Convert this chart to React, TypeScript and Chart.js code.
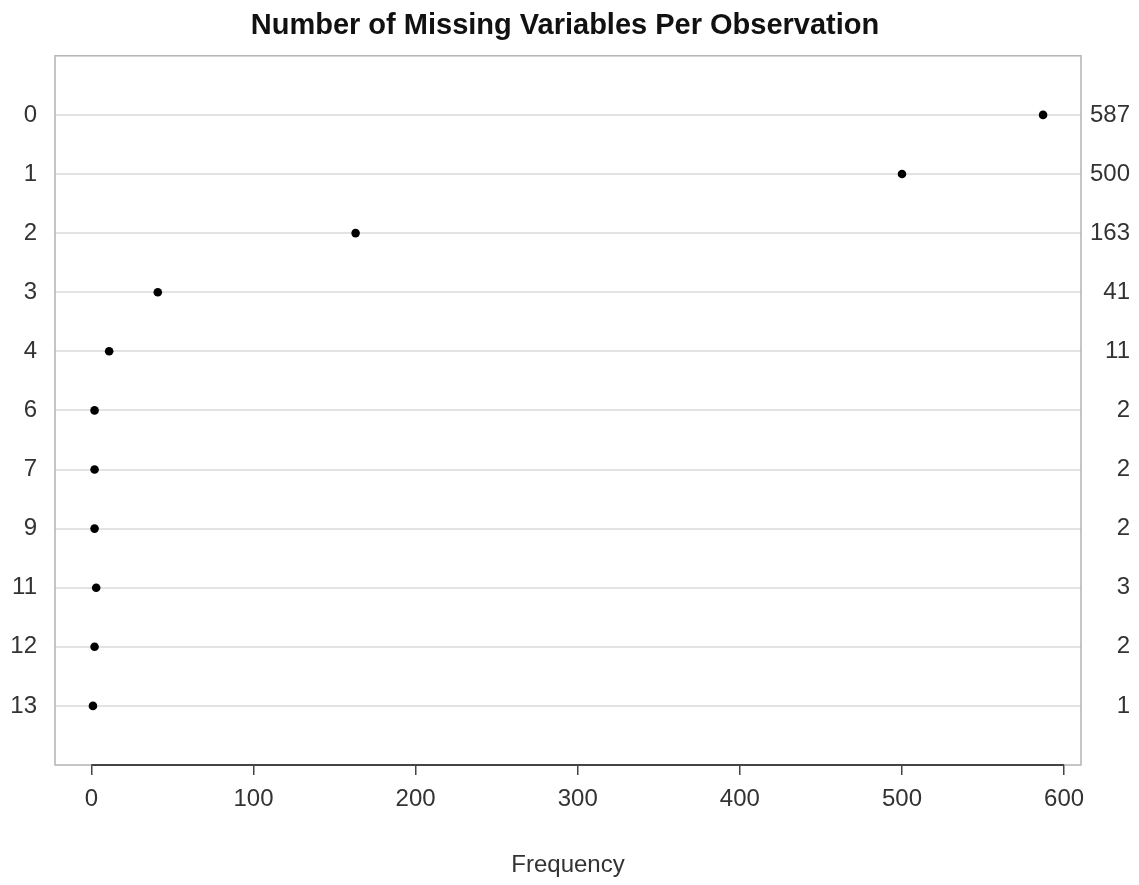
import React, { useEffect, useRef } from "react";
import { Chart, registerables } from "chart.js";

Chart.register(...registerables);

const categories = ["0", "1", "2", "3", "4", "6", "7", "9", "11", "12", "13"];
const frequencies = [587, 500, 163, 41, 11, 2, 2, 2, 3, 2, 1];
const xTickValues = [0, 100, 200, 300, 400, 500, 600];
const titleText = "Number of Missing Variables Per Observation";
const xAxisTitle = "Frequency";

const FONT = "'Liberation Sans', Arial, Helvetica, sans-serif";

const boxPlugin = {
  id: "rbox",
  beforeDatasetsDraw(chart: any) {
    const { ctx, chartArea: a, scales } = chart;
    ctx.save();
    ctx.strokeStyle = "#b3b3b3";
    ctx.lineWidth = 1.5;
    ctx.strokeRect(a.left, a.top, a.right - a.left, a.bottom - a.top);
    const x = scales.x;
    ctx.strokeStyle = "#444444";
    ctx.lineWidth = 2;
    ctx.beginPath();
    ctx.moveTo(x.getPixelForValue(xTickValues[0]), a.bottom);
    ctx.lineTo(x.getPixelForValue(xTickValues[xTickValues.length - 1]), a.bottom);
    ctx.stroke();
    ctx.restore();
  },
};

export default function App() {
  const ref = useRef<HTMLCanvasElement | null>(null);

  useEffect(() => {
    if (!ref.current) return;
    const chart = new Chart(ref.current, {
      type: "scatter",
      data: {
        datasets: [
          {
            data: frequencies.map((v, i) => ({ x: v, y: i })),
            yAxisID: "y",
            xAxisID: "x",
            pointRadius: 4.3,
            pointHoverRadius: 4.3,
            backgroundColor: "#000000",
            borderColor: "#000000",
            borderWidth: 0,
          },
        ],
      },
      options: {
        responsive: false,
        animation: false,
        layout: { padding: { left: 0, top: 0, bottom: 0, right: 9 } },
        plugins: {
          legend: { display: false },
          tooltip: { enabled: false },
          title: {
            display: true,
            text: titleText,
            color: "#111111",
            font: { family: FONT, size: 29, weight: "bold" },
            padding: { top: 9, bottom: 12 },
          },
        },
        scales: {
          x: {
            type: "linear",
            position: "bottom",
            min: -22.4,
            max: 610.4,
            afterBuildTicks: (s: any) => {
              s.ticks = xTickValues.map((v) => ({ value: v }));
            },
            afterFit: (s: any) => {
              s.height = 120;
            },
            ticks: {
              autoSkip: false,
              maxRotation: 0,
              color: "#333333",
              padding: 10,
              font: { family: FONT, size: 24 },
            },
            grid: {
              drawOnChartArea: false,
              drawTicks: true,
              tickLength: 10,
              color: "#444444",
              lineWidth: 1.5,
            },
            border: { display: false },
            title: {
              display: true,
              text: xAxisTitle,
              color: "#333333",
              font: { family: FONT, size: 24 },
              padding: { top: 0, bottom: 5 },
            },
          },
          y: {
            type: "linear",
            position: "left",
            reverse: true,
            min: -1,
            max: categories.length,
            afterBuildTicks: (s: any) => {
              s.ticks = categories.map((_, i) => ({ value: i }));
            },
            afterFit: (s: any) => {
              s.width = 55;
            },
            ticks: {
              autoSkip: false,
              color: "#333333",
              padding: 18,
              font: { family: FONT, size: 24 },
              callback: (_v: any, i: number) => categories[i],
            },
            grid: {
              color: "#e3e3e3",
              lineWidth: 2,
              drawTicks: false,
            },
            border: { display: false },
          },
          y2: {
            type: "linear",
            position: "right",
            reverse: true,
            min: -1,
            max: categories.length,
            afterBuildTicks: (s: any) => {
              s.ticks = categories.map((_, i) => ({ value: i }));
            },
            afterFit: (s: any) => {
              s.width = 49;
            },
            ticks: {
              autoSkip: false,
              color: "#333333",
              padding: 10,
              crossAlign: "far",
              font: { family: FONT, size: 24 },
              callback: (_v: any, i: number) => String(frequencies[i]),
            },
            grid: { display: false, drawTicks: false },
            border: { display: false },
          },
        },
      } as any,
      plugins: [boxPlugin],
    });
    return () => chart.destroy();
  }, []);

  return (
    <div style={{ position: "fixed", left: 0, top: 0, width: 1139, height: 885, background: "#ffffff" }}>
      <canvas ref={ref} width={1139} height={885} />
    </div>
  );
}
